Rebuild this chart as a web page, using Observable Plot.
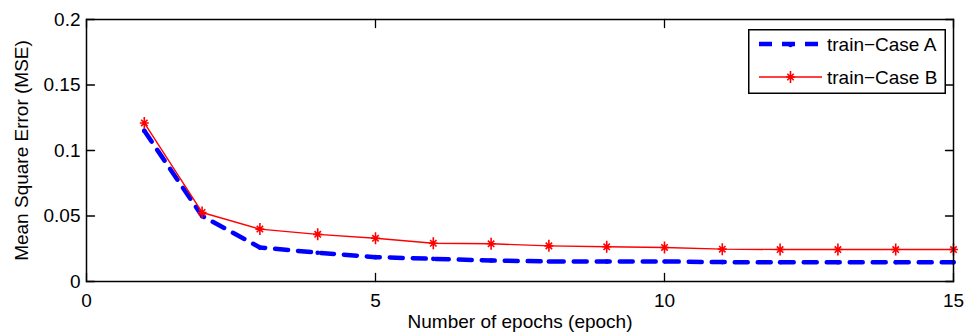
<!DOCTYPE html>
<html>
<head>
<meta charset="utf-8">
<script src="https://cdn.jsdelivr.net/npm/d3@7"></script>
<script src="https://cdn.jsdelivr.net/npm/@observablehq/plot@0.6"></script>
<style>
  html, body { margin: 0; padding: 0; background: #fff; }
  #wrap { position: relative; width: 966px; height: 335px; }
  #legend { position: absolute; left: 748px; top: 29px; }
</style>
</head>
<body>
<div id="wrap"></div>
<script>
// ---- data ----
const epochs = [1, 2, 3, 4, 5, 6, 7, 8, 9, 10, 11, 12, 13, 14, 15];
const caseA = [0.115, 0.050, 0.026, 0.022, 0.0186, 0.0173, 0.016, 0.0153, 0.0153, 0.0153, 0.0148, 0.0147, 0.0147, 0.0147, 0.0147];
const caseB = [0.121, 0.0527, 0.040, 0.036, 0.033, 0.0292, 0.0288, 0.0272, 0.0265, 0.026, 0.0247, 0.0244, 0.0244, 0.0244, 0.0244];
const seriesNames = ["train\u2212Case A", "train\u2212Case B"];
const xTicks = [0, 5, 10, 15];
const yTicks = [0, 0.05, 0.1, 0.15, 0.2];
const xLabel = "Number of epochs (epoch)";
const yLabel = "Mean Square Error (MSE)";

const dataA = epochs.map((e, i) => ({epoch: e, mse: caseA[i]}));
const dataB = epochs.map((e, i) => ({epoch: e, mse: caseB[i]}));

const blue = "#0000ff";
const red = "#ff0000";
const font = "'Liberation Sans', Arial, Helvetica, sans-serif";

const tickShape = {draw(context, l) { context.moveTo(0, 0); context.lineTo(0, -l); }};
const starSymbol = {
  draw(context) {
    context.moveTo(0, -6); context.lineTo(0, 6);
    context.moveTo(-4.5, 0); context.lineTo(4.5, 0);
    context.moveTo(-3.2, -3.2); context.lineTo(3.2, 3.2);
    context.moveTo(-3.2, 3.2); context.lineTo(3.2, -3.2);
  }
};

const tickOpts = {length: 8, anchor: "start", shape: tickShape, stroke: "black", strokeWidth: 1.3};

const chart = Plot.plot({
  width: 966,
  height: 335,
  marginLeft: 86,
  marginRight: 13,
  marginTop: 19,
  marginBottom: 54,
  style: {fontFamily: font, fontSize: "19px", color: "black", background: "white", overflow: "visible"},
  x: {domain: [0, 15]},
  y: {domain: [0, 0.2]},
  marks: [
    Plot.axisX({ticks: xTicks, tickSize: 0, tickPadding: 12, tickFormat: d => String(d), label: null, fontSize: 19}),
    Plot.axisY({ticks: yTicks, tickSize: 0, tickPadding: 6, tickFormat: d => String(d), label: null, fontSize: 19}),
    Plot.vector(xTicks, {...tickOpts, x: d => d, frameAnchor: "bottom", rotate: 0}),
    Plot.vector(xTicks, {...tickOpts, x: d => d, frameAnchor: "top", rotate: 180}),
    Plot.vector(yTicks, {...tickOpts, y: d => d, frameAnchor: "left", rotate: 90}),
    Plot.vector(yTicks, {...tickOpts, y: d => d, frameAnchor: "right", rotate: -90}),
    Plot.line(dataA, {x: "epoch", y: "mse", stroke: blue, strokeWidth: 4.5, strokeDasharray: "13,10"}),
    Plot.dot(dataA, {x: "epoch", y: "mse", r: 2.3, fill: blue}),
    Plot.line(dataB, {x: "epoch", y: "mse", stroke: red, strokeWidth: 1.4}),
    Plot.dot(dataB, {x: "epoch", y: "mse", symbol: starSymbol, r: 5, stroke: red, strokeWidth: 1.6, fill: "none"}),
    Plot.frame({stroke: "black", strokeWidth: 1.5}),
    Plot.text([xLabel], {text: d => d, frameAnchor: "bottom", dy: 40, lineAnchor: "middle", textAnchor: "middle", fontSize: 19}),
    Plot.text([yLabel], {text: d => d, frameAnchor: "left", dx: -65, rotate: -90, lineAnchor: "middle", textAnchor: "middle", fontSize: 19})
  ]
});

const wrap = document.getElementById("wrap");
wrap.appendChild(chart);

// ---- legend overlay ----
const W = 198, H = 65;
const leg = d3.create("svg").attr("id", "legend").attr("width", W).attr("height", H)
  .style("overflow", "visible");
leg.append("rect").attr("x", 0.75).attr("y", 0.75).attr("width", W - 1.5).attr("height", H - 1.5)
  .attr("fill", "white").attr("stroke", "black").attr("stroke-width", 1.5);
// Case A sample
leg.append("line").attr("x1", 11).attr("x2", 74).attr("y1", 15).attr("y2", 15)
  .attr("stroke", blue).attr("stroke-width", 4.5).attr("stroke-dasharray", "13,10");
leg.append("circle").attr("cx", 42.5).attr("cy", 16).attr("r", 2.3).attr("fill", blue);
// Case B sample
leg.append("line").attr("x1", 11).attr("x2", 74).attr("y1", 48).attr("y2", 48)
  .attr("stroke", red).attr("stroke-width", 1.4);
leg.append("path").attr("transform", "translate(42.5,48)")
  .attr("d", "M0,-6L0,6M-4.5,0L4.5,0M-3.2,-3.2L3.2,3.2M-3.2,3.2L3.2,-3.2")
  .attr("stroke", red).attr("stroke-width", 1.6).attr("fill", "none");
[15, 48].forEach((y, i) => {
  leg.append("text").attr("x", 79).attr("y", y).attr("dy", "0.35em")
    .attr("font-family", font).attr("font-size", 19).attr("fill", "black")
    .text(seriesNames[i]);
});
wrap.appendChild(leg.node());
</script>
</body>
</html>
